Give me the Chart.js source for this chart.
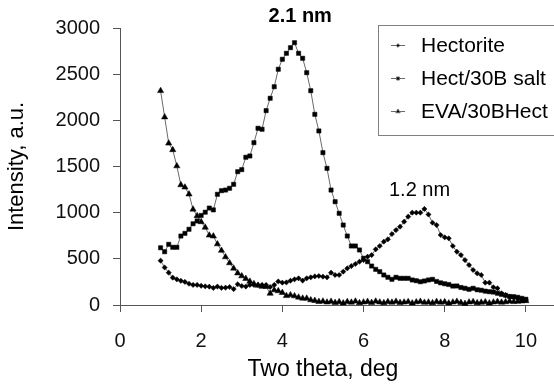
<!DOCTYPE html>
<html>
<head>
<meta charset="utf-8">
<script src="https://cdn.jsdelivr.net/npm/chart.js@4/dist/chart.umd.min.js"></script>
<style>
html,body{margin:0;padding:0;background:#fff;}
#wrap{width:554px;height:384px;position:relative;}
</style>
</head>
<body>
<div id="wrap"><canvas id="c" width="554" height="384"></canvas></div>
<script>
const twoTheta = [1.0,1.1,1.2,1.3,1.4,1.5,1.6,1.7,1.8,1.9,2.0,2.1,2.2,2.3,2.4,2.5,2.6,2.7,2.8,2.9,
3.0,3.1,3.2,3.3,3.4,3.5,3.6,3.7,3.8,3.9,4.0,4.1,4.2,4.3,4.4,4.5,4.6,4.7,4.8,4.9,
5.0,5.1,5.2,5.3,5.4,5.5,5.6,5.7,5.8,5.9,6.0,6.1,6.2,6.3,6.4,6.5,6.6,6.7,6.8,6.9,
7.0,7.1,7.2,7.3,7.4,7.5,7.6,7.7,7.8,7.9,8.0,8.1,8.2,8.3,8.4,8.5,8.6,8.7,8.8,8.9,
9.0,9.1,9.2,9.3,9.4,9.5,9.6,9.7,9.8,9.9,10.0];

const hectorite = [480,406,350,296,278,262,250,230,217,217,208,202,198,185,200,186,188,195,172,225,
206,200,217,217,217,217,217,195,217,255,242,245,263,278,289,265,289,300,310,314,
307,300,350,325,325,361,397,422,444,469,487,523,541,603,639,686,711,769,812,848,
902,957,1000,1000,1000,1040,980,891,866,758,733,722,639,577,541,487,433,379,343,325,
242,242,192,181,127,108,90,83,72,62,54];

const hect30BSalt = [620,577,657,625,625,747,776,820,880,910,970,1005,1050,1030,1199,1238,1245,1264,1307,1444,
1466,1600,1614,1758,1914,1903,2105,2239,2364,2553,2661,2726,2787,2841,2726,2672,2516,2321,2065,1885,
1650,1480,1245,1119,993,866,747,639,639,596,506,469,422,386,361,325,300,278,300,289,
289,289,271,263,252,260,271,278,255,240,230,222,205,206,190,181,170,181,165,160,
150,144,140,127,115,105,92,90,83,72,62];

const eva30BHect = [2320,2035,1751,1680,1505,1300,1275,1200,1036,965,900,840,755,745,660,590,520,455,397,345,
314,285,255,230,212,200,198,125,162,152,133,100,108,97,83,72,72,54,47,36,
40,30,38,25,33,20,35,28,40,22,30,36,25,40,30,22,35,28,38,25,
30,35,20,32,38,27,30,22,36,28,33,20,30,38,25,15,30,35,22,28,
32,20,30,36,28,33,40,35,38,42,45];

const seriesNames = ['Hectorite','Hect/30B salt','EVA/30BHect'];
const xTickValues = [0,2,4,6,8,10];
const yTickValues = [0,500,1000,1500,2000,2500,3000];
const annotations = [
  {text:'2.1 nm', x:4.44, y:3120, bold:true},
  {text:'1.2 nm', x:7.38, y:1245, bold:false}
];

function pts(ys){ return twoTheta.map((x,i)=>({x:x,y:ys[i]})); }

const FONT = '"Liberation Sans", Arial, sans-serif';
const LINE = '#6a6a6a';
const AXIS = '#555';

const styles = [
  {pointStyle:'rectRot', radius:2.6},
  {pointStyle:'rect', radius:3.0},
  {pointStyle:'triangle', radius:3.6}
];
const seriesData = [hectorite, hect30BSalt, eva30BHect];

const datasets = seriesData.map((d,i)=>({
  label: seriesNames[i],
  data: pts(d),
  borderColor: LINE,
  borderWidth: 1,
  backgroundColor: '#000',
  pointBackgroundColor: '#000',
  pointBorderColor: '#000',
  pointBorderWidth: 0.5,
  pointStyle: styles[i].pointStyle,
  pointRadius: styles[i].radius,
  showLine: true,
  tension: 0,
  fill: false,
  clip: false
}));

const overlay = {
  id: 'overlay',
  beforeDatasetsDraw(chart){
    // continue the x axis line to the right edge of the figure
    const ctx = chart.ctx, a = chart.chartArea;
    ctx.save();
    ctx.strokeStyle = AXIS;
    ctx.lineWidth = 1;
    ctx.beginPath();
    ctx.moveTo(a.right, a.bottom + 0.5);
    ctx.lineTo(chart.width, a.bottom + 0.5);
    ctx.stroke();
    ctx.restore();
  },
  afterDraw(chart){
    const ctx = chart.ctx;
    const xs = chart.scales.x, ys = chart.scales.y;
    ctx.save();
    ctx.fillStyle = '#000';
    ctx.textAlign = 'center';
    ctx.textBaseline = 'middle';
    annotations.forEach(a=>{
      ctx.font = (a.bold ? 'bold ' : '') + '20px ' + FONT;
      ctx.fillText(a.text, xs.getPixelForValue(a.x), ys.getPixelForValue(a.y));
    });
    // legend box
    const bx = 378.5, by = 25.5, bw = 190, bh = 110;
    ctx.fillStyle = '#fff';
    ctx.fillRect(bx, by, bw, bh);
    ctx.strokeStyle = '#808080';
    ctx.lineWidth = 1;
    ctx.strokeRect(bx, by, bw, bh);
    ctx.font = '21px ' + FONT;
    ctx.textAlign = 'left';
    ctx.textBaseline = 'middle';
    const rows = [45, 78, 111];
    seriesNames.forEach((n,i)=>{
      const yy = rows[i];
      ctx.strokeStyle = LINE;
      ctx.beginPath();
      ctx.moveTo(391, yy + 0.5);
      ctx.lineTo(405, yy + 0.5);
      ctx.stroke();
      ctx.fillStyle = '#000';
      Chart.helpers.drawPoint(ctx, {pointStyle: styles[i].pointStyle, radius: styles[i].radius*0.7, borderWidth: 0.5, rotation: 0}, 398, yy + 0.5);
      ctx.fillStyle = '#000';
      ctx.fillText(n, 421, yy + 1);
    });
    ctx.restore();
  }
};

new Chart(document.getElementById('c'), {
  type: 'scatter',
  data: {datasets},
  options: {
    responsive: false,
    animation: false,
    devicePixelRatio: 1,
    layout: {padding: {top: 28, right: 26, left: 0, bottom: 0}},
    plugins: {legend: {display: false}, tooltip: {enabled: false}},
    scales: {
      x: {
        type: 'linear',
        min: 0, max: 10,
        afterBuildTicks(s){ s.ticks = xTickValues.map(v=>({value:v})); },
        afterFit(s){ s.height = 79; },
        grid: {display: true, drawOnChartArea: false, drawTicks: true, tickLength: 7, color: AXIS, tickColor: AXIS},
        border: {display: true, color: AXIS, width: 1},
        ticks: {color: '#111', font: {family: FONT, size: 20}, padding: 17, maxRotation: 0,
                callback: v => String(v)},
        title: {display: true, text: 'Two theta, deg', color: '#000', font: {family: FONT, size: 23}, padding: {top: 0, bottom: 1}}
      },
      y: {
        type: 'linear',
        min: 0, max: 3000,
        afterBuildTicks(s){ s.ticks = yTickValues.map(v=>({value:v})); },
        afterFit(s){ s.width = 120; },
        grid: {display: true, drawOnChartArea: false, drawTicks: true, tickLength: 7, color: AXIS, tickColor: AXIS},
        border: {display: true, color: AXIS, width: 1},
        ticks: {color: '#111', font: {family: FONT, size: 20}, padding: 13,
                callback: v => String(v)},
        title: {display: true, text: 'Intensity, a.u.', color: '#000', font: {family: FONT, size: 22}, padding: {top: 4, bottom: 0}}
      }
    }
  },
  plugins: [overlay]
});
</script>
</body>
</html>
